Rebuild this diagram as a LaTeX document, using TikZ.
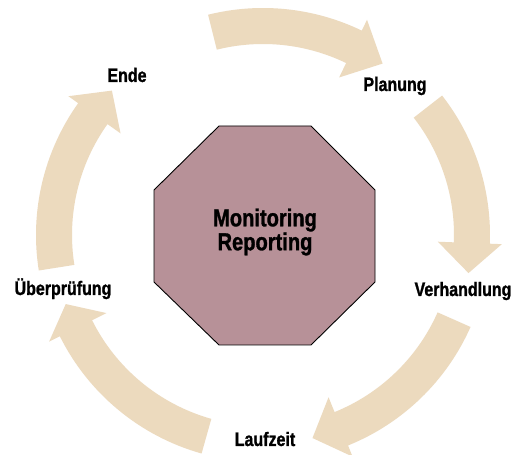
\documentclass[tikz,border=0pt]{standalone}
\usepackage{fontspec}
\newfontfamily\lblfont{Liberation Sans}[FakeStretch=0.82, FakeBold=1.2]
\usetikzlibrary{calc}
\definecolor{arrowbeige}{RGB}{236,218,190}
\definecolor{hubmauve}{RGB}{183,145,152}
\tikzset{
  stagelabel/.style={font=\lblfont\bfseries\fontsize{19.5}{22}\selectfont, anchor=base, inner sep=0pt},
  hubtext/.style={font=\lblfont\bfseries\fontsize{24.5}{22}\selectfont, align=center, inner sep=0pt},
  hubshape/.style={fill=hubmauve, draw=black, line width=0.9pt, line join=miter},
  ringarrow/.style={fill=arrowbeige, draw=none},
}
% curved block arrow on the ring: tail angle, head base angle, tip angle
\newcommand\cycarrow[3]{%
  \path[ringarrow] (#1:227pt) arc[start angle=#1, end angle=#2, radius=227pt]
    -- (#2:239pt) -- (#3:209pt) -- (#2:175pt) -- (#2:191pt)
    arc[start angle=#2, end angle=#1, radius=191pt] -- cycle;}
\begin{document}
\begin{tikzpicture}[x=1pt,y=1pt]
  \useasboundingbox (0,0) rectangle (517,455);
  \fill[white] (0,0) rectangle (517,455);

  % ring of five arrows
  \begin{scope}[shift={(263,220)}]
    \cycarrow{104}{64.2}{55.1}
    \cycarrow{37.9}{-2.2}{-10.5}
    \cycarrow{-23.9}{-68}{-76.3}
    \cycarrow{254.3}{206.5}{199.3}
    \cycarrow{189}{144.5}{136.3}
  \end{scope}

  % central octagon
  \coordinate (o1) at (219,329);
  \coordinate (o2) at (311,329);
  \coordinate (o3) at (375,265);
  \coordinate (o4) at (375,173);
  \coordinate (o5) at (311,110);
  \coordinate (o6) at (219,110);
  \coordinate (o7) at (154,173);
  \coordinate (o8) at (154,265);
  \draw[hubshape] (o1) -- (o2) -- (o3) -- (o4) -- (o5) -- (o6) -- (o7) -- (o8) -- cycle;
  \node[hubtext] (hub) at (265,223) {Monitoring\\Reporting};

  % stage labels
  \node[stagelabel] (ende) at (127,373) {Ende};
  \node[stagelabel] (planung) at (395,364) {Planung};
  \node[stagelabel] (verhandlung) at (463,159) {Verhandlung};
  \node[stagelabel] (laufzeit) at (265,9) {Laufzeit};
  \node[stagelabel] (pruefung) at (63,160) {Überprüfung};
\end{tikzpicture}
\end{document}
